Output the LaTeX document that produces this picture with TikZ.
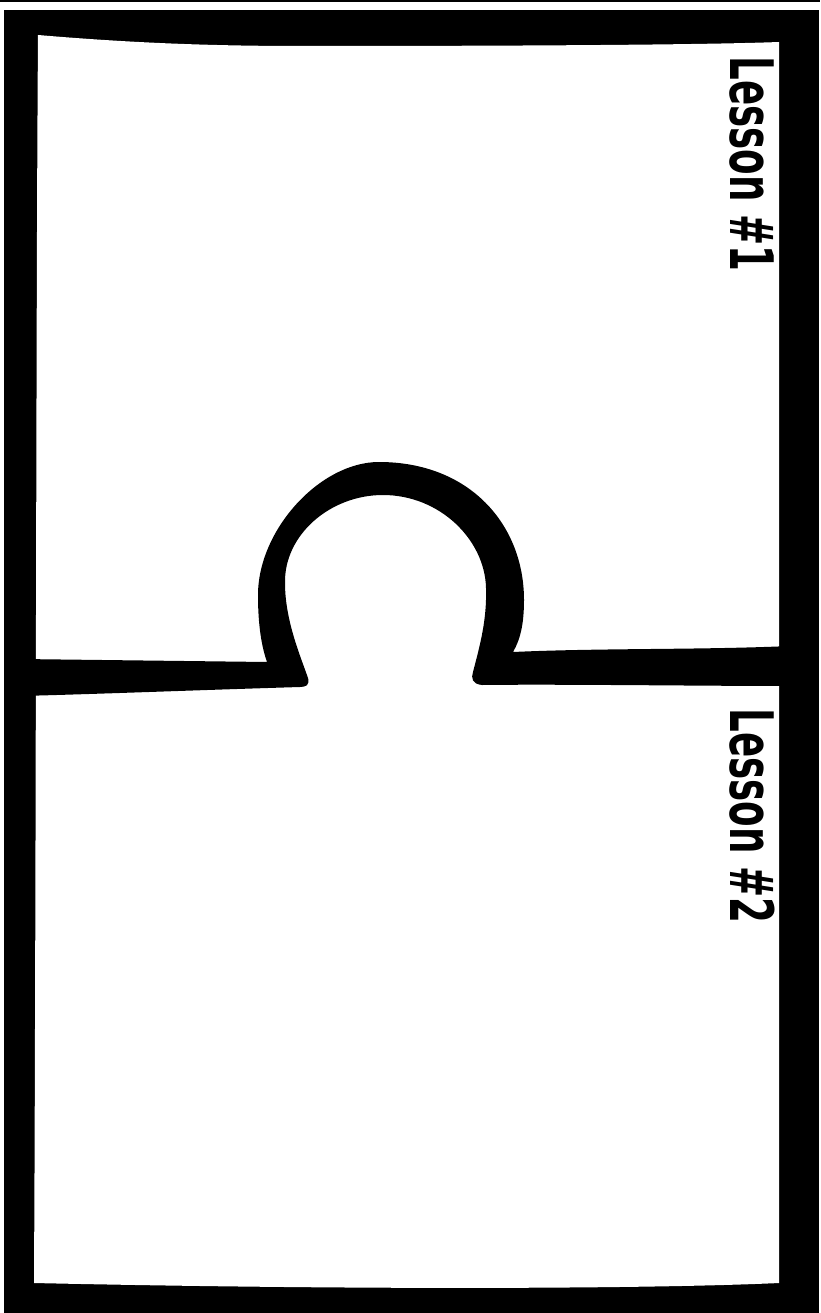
\documentclass[tikz,border=0pt]{standalone}
\usepackage{fontspec}
\newfontfamily\lessonfont{DejaVu Sans}

\begin{document}
\begin{tikzpicture}[
    x=1pt, y=-1pt,
    frame/.style={fill=black},
    sheet/.style={fill=white},
    lesson/.style={font=\lessonfont\bfseries\fontsize{60}{60}\selectfont, rotate=-90, xscale=0.62, inner sep=0pt}
  ]
    \useasboundingbox (0,0) rectangle (820,1313);
    \fill[sheet] (0,0) rectangle (820,1313);
    \fill[frame] (0,0) rectangle (820,1.7);
    \fill[frame] (4,10) rectangle (819,1313);
    % inner page
    \fill[sheet]
    (38,35) .. controls (120,42) and (200,46) .. (300,46)
    .. controls (500,46) and (700,45) .. (779,42)
    -- (779,1283)
    .. controls (650,1289) and (350,1290) .. (34,1283)
    .. controls (36,900) and (36,300) .. (38,35) -- cycle;
    % puzzle divider
    \fill[frame]
    (20,659) -- (267,662)
    .. controls (260,642) and (258,618) .. (258,595)
    .. controls (258,530) and (320,462) .. (379,462)
    .. controls (470,462) and (524,525) .. (524,600)
    .. controls (524,625) and (520,640) .. (513,652)
    .. controls (600,648) and (700,650) .. (790,646)
    -- (790,686)
    .. controls (700,686) and (560,684) .. (482,685)
    .. controls (472,684) and (471,678) .. (473,672)
    .. controls (480,645) and (487,620) .. (486,588)
    .. controls (485,540) and (440,495) .. (383,495)
    .. controls (330,495) and (284,535) .. (285,583)
    .. controls (285,620) and (300,655) .. (308,678)
    .. controls (310,685) and (306,687) .. (300,687)
    .. controls (200,690) and (100,694) .. (20,696) -- cycle;
    \node[lesson] (lesson1) at (752,164) {Lesson \#1};
    \node[lesson] (lesson2) at (752,816) {Lesson \#2};
  \end{tikzpicture}
\end{document}
